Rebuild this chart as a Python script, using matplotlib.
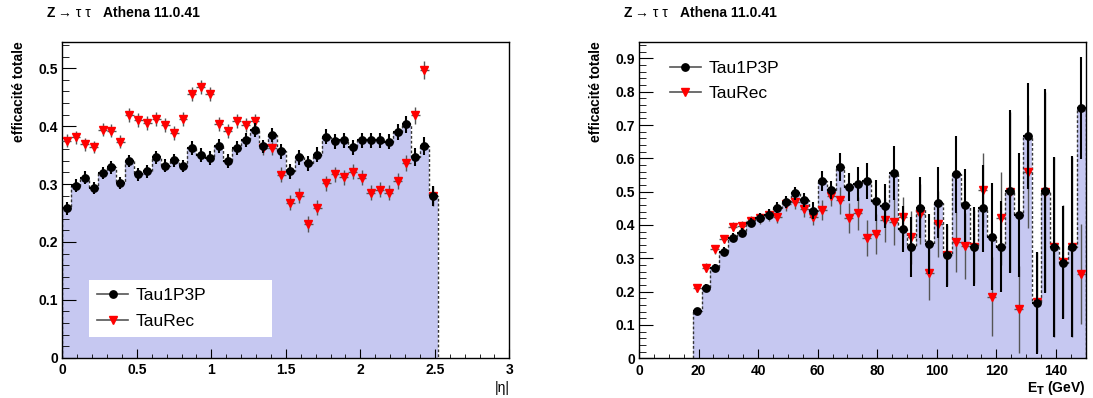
import matplotlib
matplotlib.use("Agg")
import matplotlib.pyplot as plt
import numpy as np
from matplotlib.lines import Line2D
from matplotlib.ticker import MultipleLocator, FuncFormatter

plt.rcParams['font.family'] = ['Liberation Sans', 'DejaVu Sans']

# |eta| distribution: 42 bins of 0.06 starting at 0
eta_bin_width = 0.06
eta_first_bin = 0.0
tau1p3p_eta = [0.258, 0.297, 0.311, 0.293, 0.319, 0.329, 0.302, 0.340, 0.317, 0.322,
               0.346, 0.332, 0.341, 0.331, 0.362, 0.351, 0.345, 0.366, 0.340, 0.363,
               0.376, 0.394, 0.365, 0.385, 0.357, 0.322, 0.346, 0.336, 0.351, 0.382,
               0.374, 0.376, 0.364, 0.376, 0.376, 0.376, 0.373, 0.390, 0.403, 0.347,
               0.366, 0.279]
taurec_eta = [0.375, 0.381, 0.369, 0.364, 0.394, 0.392, 0.373, 0.419, 0.411, 0.405,
              0.412, 0.402, 0.389, 0.413, 0.456, 0.468, 0.456, 0.404, 0.392, 0.409,
              0.402, 0.409, 0.362, 0.363, 0.316, 0.268, 0.280, 0.231, 0.259, 0.301,
              0.317, 0.312, 0.321, 0.311, 0.285, 0.290, 0.285, 0.305, 0.337, 0.419,
              0.497, 0.279]
err_tau1p3p_eta = [0.011, 0.011, 0.011, 0.011, 0.011, 0.011, 0.011, 0.011, 0.011, 0.011,
                   0.011, 0.011, 0.011, 0.011, 0.012, 0.012, 0.012, 0.012, 0.012, 0.012,
                   0.012, 0.012, 0.012, 0.012, 0.013, 0.013, 0.013, 0.013, 0.013, 0.013,
                   0.013, 0.013, 0.013, 0.013, 0.013, 0.013, 0.013, 0.014, 0.014, 0.015,
                   0.015, 0.017]
err_taurec_eta = [0.011, 0.011, 0.011, 0.011, 0.011, 0.011, 0.011, 0.012, 0.012, 0.012,
                  0.012, 0.012, 0.012, 0.012, 0.012, 0.012, 0.012, 0.012, 0.012, 0.012,
                  0.012, 0.012, 0.012, 0.012, 0.013, 0.013, 0.013, 0.013, 0.013, 0.013,
                  0.013, 0.013, 0.013, 0.013, 0.013, 0.013, 0.013, 0.014, 0.014, 0.015,
                  0.016, 0.017]

# E_T distribution: 44 bins of 3 GeV starting at 18 GeV
et_bin_width = 3.0
et_first_bin = 18.0
tau1p3p_et = [0.142, 0.210, 0.270, 0.320, 0.362, 0.377, 0.407, 0.420, 0.431, 0.452,
              0.468, 0.495, 0.475, 0.443, 0.533, 0.505, 0.573, 0.513, 0.523, 0.533,
              0.473, 0.457, 0.556, 0.388, 0.335, 0.452, 0.344, 0.467, 0.309, 0.552,
              0.459, 0.335, 0.450, 0.365, 0.335, 0.501, 0.430, 0.667, 0.167, 0.501,
              0.335, 0.287, 0.335, 0.751]
taurec_et = [0.210, 0.272, 0.327, 0.358, 0.395, 0.397, 0.412, 0.420, 0.430, 0.423,
             0.462, 0.468, 0.448, 0.425, 0.445, 0.488, 0.474, 0.422, 0.435, 0.361,
             0.373, 0.415, 0.410, 0.424, 0.363, 0.433, 0.255, 0.403, 0.310, 0.348,
             0.337, 0.335, 0.505, 0.185, 0.420, 0.500, 0.147, 0.560, 0.170, 0.500,
             0.335, 0.290, 0.335, 0.252]
err_tau1p3p_et = [0.010, 0.012, 0.012, 0.013, 0.013, 0.014, 0.014, 0.015, 0.016, 0.017,
                  0.018, 0.020, 0.022, 0.025, 0.030, 0.028, 0.042, 0.042, 0.052, 0.054,
                  0.062, 0.066, 0.080, 0.068, 0.090, 0.092, 0.090, 0.106, 0.094, 0.116,
                  0.109, 0.118, 0.130, 0.160, 0.136, 0.245, 0.187, 0.158, 0.153, 0.306,
                  0.270, 0.170, 0.272, 0.154]
err_taurec_et = [0.012, 0.013, 0.013, 0.013, 0.014, 0.014, 0.015, 0.016, 0.017, 0.018,
                 0.019, 0.021, 0.023, 0.026, 0.030, 0.032, 0.040, 0.045, 0.050, 0.055,
                 0.060, 0.065, 0.070, 0.060, 0.080, 0.090, 0.080, 0.100, 0.090, 0.090,
                 0.100, 0.110, 0.110, 0.118, 0.140, 0.240, 0.130, 0.170, 0.150, 0.300,
                 0.270, 0.170, 0.270, 0.150]

fill_col = '#c6c8f1'


def fmt(v, pos):
    return '%g' % v


def panel(ax, first, width, tau, taurec, etau, erec, xmax, ymax, xmaj, xmin, ymaj, ymin):
    n = len(tau)
    edges = first + width * np.arange(n + 1)
    centers = edges[:-1] + width / 2
    ax.stairs(tau, edges, baseline=0, fill=True, color=fill_col, lw=0, zorder=1)
    ax.stairs(tau, edges, baseline=0, color='#333333', ls=(0, (2, 1.5)), lw=1, zorder=2)
    ax.errorbar(centers, taurec, yerr=erec, xerr=width / 2, fmt='v', color='red', ms=5.3,
                mec='red', ecolor='#555555', elinewidth=1, capsize=0, zorder=3)
    ax.errorbar(centers, tau, yerr=etau, xerr=width / 2, fmt='o', color='black', ms=5.3,
                ecolor='black', elinewidth=1.5, capsize=0, zorder=4)
    ax.set_xlim(0, xmax)
    ax.set_ylim(0, ymax)
    ax.xaxis.set_major_locator(MultipleLocator(xmaj))
    ax.xaxis.set_minor_locator(MultipleLocator(xmin))
    ax.yaxis.set_major_locator(MultipleLocator(ymaj))
    ax.yaxis.set_minor_locator(MultipleLocator(ymin))
    ax.xaxis.set_major_formatter(FuncFormatter(fmt))
    ax.yaxis.set_major_formatter(FuncFormatter(fmt))
    ax.tick_params(which='both', direction='in', top=False, right=False, labelsize=10)
    ax.tick_params(axis='y', which='major', length=10, pad=3)
    ax.tick_params(axis='y', which='minor', length=5)
    ax.tick_params(axis='x', which='major', length=6.5, pad=4)
    ax.tick_params(axis='x', which='minor', length=3.2)
    for lab in ax.get_xticklabels() + ax.get_yticklabels():
        lab.set_fontweight('bold')
    for s in ax.spines.values():
        s.set_linewidth(1)


fig = plt.figure(figsize=(10.93, 3.98), dpi=100)
W, H = 1093.0, 398.0
ax1 = fig.add_axes([62.3 / W, 40.3 / H, 447 / W, 316 / H])
ax2 = fig.add_axes([639 / W, 39.7 / H, 446.7 / W, 316.6 / H])

panel(ax1, eta_first_bin, eta_bin_width, tau1p3p_eta, taurec_eta, err_tau1p3p_eta,
      err_taurec_eta, 3, 0.546, 0.5, 0.1, 0.1, 0.02)
panel(ax2, et_first_bin, et_bin_width, tau1p3p_et, taurec_et, err_tau1p3p_et,
      err_taurec_et, 150, 0.95, 20, 5, 0.1, 0.02)

handles = [Line2D([], [], color='#555555', lw=1.2, marker='o', mfc='black', mec='black', ms=5.3),
           Line2D([], [], color='#555555', lw=1.2, marker='v', mfc='red', mec='red', ms=5.3)]
labels = ['Tau1P3P', 'TauRec']

ax1.legend(handles, labels, loc='lower left', bbox_to_anchor=(0.06, 0.066, 0.41, 0.186),
           mode='expand', fontsize=12.5, frameon=True, fancybox=False, edgecolor='none',
           facecolor='white', framealpha=1, borderpad=0.45, labelspacing=0.6,
           handlelength=1.8, handletextpad=0.45, borderaxespad=0)
ax2.legend(handles, labels, loc='upper left', bbox_to_anchor=(0.069, 0.94),
           fontsize=12.5, frameon=False, borderpad=0, labelspacing=0.6,
           handlelength=1.8, handletextpad=0.45, borderaxespad=0)

# titles
for off in (0, 576.6):
    fig.text((47 + off) / W, 1 - 13 / H, 'Z', fontsize=10, fontweight='bold', va='center')
    fig.text((58 + off) / W, 1 - 13 / H, '\u2192 \u03c4 \u03c4', fontsize=10, va='center')
    fig.text((103 + off) / W, 1 - 13 / H, 'Athena 11.0.41', fontsize=10,
             fontweight='bold', va='center')

fig.text(19 / W, 1 - 41 / H, 'efficacité totale', rotation=90, ha='center', va='top',
         fontsize=10, fontweight='bold')
fig.text(596 / W, 1 - 41 / H, 'efficacité totale', rotation=90, ha='center', va='top',
         fontsize=10, fontweight='bold')

fig.text(509.5 / W, 1 - 388 / H, '|\u03b7|', ha='right', va='center', fontsize=10)
fig.text(1086 / W, 1 - 388 / H, r'E$_\mathbf{T}$ (GeV)', ha='right', va='center',
         fontsize=10, fontweight='bold')

fig.savefig('out.png', dpi=100)
